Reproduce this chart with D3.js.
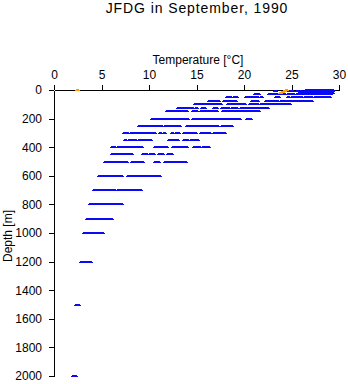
<!DOCTYPE html>
<html>
<head>
<meta charset="utf-8">
<script src="https://cdn.jsdelivr.net/npm/d3@7/dist/d3.min.js"></script>
<style>
  html, body { margin: 0; padding: 0; background: #fff; }
  svg { display: block; }
  text { font-family: "Liberation Sans", Arial, Helvetica, sans-serif; fill: #000; }
</style>
</head>
<body>
<svg id="chart" width="348" height="384"></svg>
<script>
// ---- data ----
const chartTitle = "JFDG in September, 1990";
const xLabel = "Temperature [°C]";
const yLabel = "Depth [m]";
const xTicks = [0, 5, 10, 15, 20, 25, 30];
const yTicks = [0, 200, 400, 600, 800, 1000, 1200, 1400, 1600, 1800, 2000];

// depth levels [m] of the blue series
const depthLevels = [0, 10, 20, 30, 50, 75, 100, 125, 150, 200, 250, 300, 350, 400, 450, 500, 600, 700, 800, 900, 1000, 1200, 1500, 2000];
// temperatures [°C] observed at each depth level (same order as depthLevels)
const tempsByDepth = [
  [26.5,26.8,27.1,27.3,27.6,27.9,28.2,28.5,28.8,29.1,29.3],
  [23.3,24.7,25.0,25.6,26.0,26.4,26.7,27.0,27.3,27.6,27.9,28.2,28.5,28.8,29.1,29.3],
  [25.8,26.1,26.4,26.7,27.0,27.3,27.6,27.9,28.2,28.5,28.8,29.1,29.3],
  [21.2,21.5,22.6,22.9,23.3,23.6,24.0,24.2,24.6,24.9,25.2,25.6,25.9,26.2,26.6,26.9,27.2,27.5,27.8,28.1,28.4,28.7,29.0],
  [18.2,18.5,18.9,19.2,20.2,20.5,20.8,21.1,21.4,21.8,23.4,23.6,24.6,25.1,25.4,25.7,26.0,26.4,26.7,27.0,27.5,27.8,28.1,28.4,28.7,28.9],
  [16.3,16.6,16.8,17.1,17.3,17.9,18.2,18.5,18.8,19.0,20.8,21.1,21.4,22.3,22.6,22.9,23.2,23.5,23.9,24.2,24.4,24.7,25.0,25.3,25.6,25.9,26.2,26.5,26.8,27.1],
  [14.8,15.1,15.4,15.7,16.0,16.3,16.6,16.9,17.2,17.5,18.3,18.6,18.9,19.2,19.5,19.7,20.0,20.6,20.9,21.2,21.4,21.8,22.1,22.4,22.7,23.0,23.3,23.6,23.9,24.2,24.5,24.7],
  [13.0,13.3,13.6,13.9,14.2,14.5,14.9,15.6,15.8,16.8,17.1,17.7,18.0,18.3,18.7,19.0,19.2,19.7,20.0,20.3,20.6,20.9,21.2,21.5,21.8,22.1,22.4],
  [11.9,12.2,12.5,12.8,13.1,13.4,13.7,13.9,14.6,14.9,15.5,15.8,16.1,16.4,16.7,17.0,17.8,18.1,18.4,18.7,18.9,19.2,19.5,19.8,20.1,20.4,20.7,21.0,21.2,21.5],
  [10.3,10.6,10.9,11.2,11.5,11.8,12.1,12.4,12.7,12.9,13.2,13.5,13.8,14.0,14.6,14.8,15.2,15.5,15.8,16.1,16.4,16.7,17.0,17.3,17.6,17.8,18.1,18.4,18.7,19.0,19.3,19.5,20.3,20.6],
  [8.9,9.2,9.5,9.8,10.1,10.4,10.7,11.0,11.3,11.7,12.0,12.3,12.6,12.9,13.2,14.0,14.2,14.5,14.7,15.1,15.4,15.7,16.0,16.3,16.6,16.9,17.2,17.7,18.0,18.3,18.6],
  [7.4,7.7,8.1,8.4,8.7,9.0,9.3,9.6,9.9,10.2,10.5,11.2,11.6,12.4,12.8,13.1,13.7,14.0,14.3,14.6,14.8,15.5,15.8,16.1,16.3,16.8,17.1,17.4,17.7,17.9],
  [7.5,7.9,8.2,8.5,8.9,9.2,9.5,9.8,10.1,12.1,12.4,12.7,12.9,13.7,14.0,14.4,14.7,15.0],
  [6.1,6.3,6.7,7.0,7.3,7.6,7.9,8.2,8.5,8.7,9.0,9.2,10.6,10.9,11.2,11.5,11.8,12.5,12.8,13.0,13.3,13.6,13.9,14.7,15.0,15.3,15.7,16.0,16.2],
  [6.1,6.4,6.7,7.0,7.3,7.6,7.9,8.1,9.4,9.7,10.1,10.4,11.1,11.4,12.0,12.3],
  [5.4,5.7,6.0,6.3,6.6,6.9,7.1,7.4,7.6,8.2,8.5,8.8,9.1,9.3,10.6,10.9,11.7,12.0,12.3,12.6,12.9,13.2,13.5,13.8],
  [4.7,5.0,5.3,5.6,5.9,6.2,6.5,6.7,7.0,7.8,8.1,8.3,8.6,8.9,9.2,9.4,9.7,10.0,10.2,10.5,10.7,11.0],
  [4.2,4.5,4.8,5.1,5.4,5.7,6.0,6.3,6.7,7.0,7.3,7.6,7.8,8.1,8.2,8.5,8.7,9.0],
  [3.8,4.1,4.4,4.7,5.0,5.3,5.6,5.9,6.2,6.5,6.8,7.1],
  [3.5,3.8,4.1,4.4,4.7,5.0,5.3,5.6,5.9,6.0],
  [3.2,3.5,3.8,4.1,4.4,4.7,5.0,5.1],
  [2.8,3.1,3.4,3.7,3.8],
  [2.3,2.5],
  [2.0,2.2]
];

// orange series (a few surface values)
const orangeTemps  = [2.4, 23.8, 24.0, 24.2, 24.4];
const orangeDepths = [0, 20, 12, 5, 0];

// ---- build point tables ----
const bluePoints = [];
depthLevels.forEach((d, i) => tempsByDepth[i].forEach(t => bluePoints.push({ t, d })));
const orangePoints = orangeTemps.map((t, i) => ({ t, d: orangeDepths[i] }));

// ---- layout ----
const svg = d3.select("#chart");
const x = d3.scaleLinear().domain([0, 30]).range([54, 339]);
const y = d3.scaleLinear().domain([0, 2000]).range([90, 376]);

// title
svg.append("text")
  .attr("x", 197).attr("y", 13)
  .attr("text-anchor", "middle")
  .style("font-size", "14px")
  .style("letter-spacing", "0.9px")
  .text(chartTitle);

// x axis title
svg.append("text")
  .attr("x", 198).attr("y", 64)
  .attr("text-anchor", "middle")
  .style("font-size", "12px")
  .text(xLabel);

// y axis title
svg.append("text")
  .attr("transform", "translate(12,236) rotate(-90)")
  .attr("text-anchor", "middle")
  .style("font-size", "12px")
  .text(yLabel);

// axes
const xAxis = d3.axisTop(x).tickValues(xTicks).tickSize(5).tickSizeOuter(0).tickPadding(6).tickFormat(d3.format("d"));
const yAxis = d3.axisLeft(y).tickValues(yTicks).tickSize(5).tickSizeOuter(0).tickPadding(7).tickFormat(d3.format("d"));

const gx = svg.append("g").attr("transform", `translate(0,${y(0)})`).call(xAxis);
const gy = svg.append("g").attr("transform", `translate(${x(0)},0)`).call(yAxis);
[gx, gy].forEach(g => {
  g.selectAll("path, line").attr("stroke", "#000").attr("stroke-width", 1).attr("shape-rendering", "crispEdges");
  g.selectAll("text").style("font-size", "12px").attr("fill", "#000")
    .style("font-family", '"Liberation Sans", Arial, Helvetica, sans-serif');
});

// markers
function drawPoints(data, color) {
  const g = svg.append("g").attr("fill", color).attr("shape-rendering", "crispEdges");
  const pg = g.selectAll("g.pt").data(data).join("g")
    .attr("class", "pt")
    .attr("transform", p => `translate(${Math.round(x(p.t))},${Math.round(y(p.d))})`);
  pg.append("rect").attr("x", -1.5).attr("y", -1).attr("width", 3).attr("height", 2);
  pg.append("rect").attr("x", -2.5).attr("y", 0).attr("width", 5).attr("height", 1);
}
drawPoints(bluePoints, "#0a0af5");
drawPoints(orangePoints, "#ffa000");
</script>
</body>
</html>
